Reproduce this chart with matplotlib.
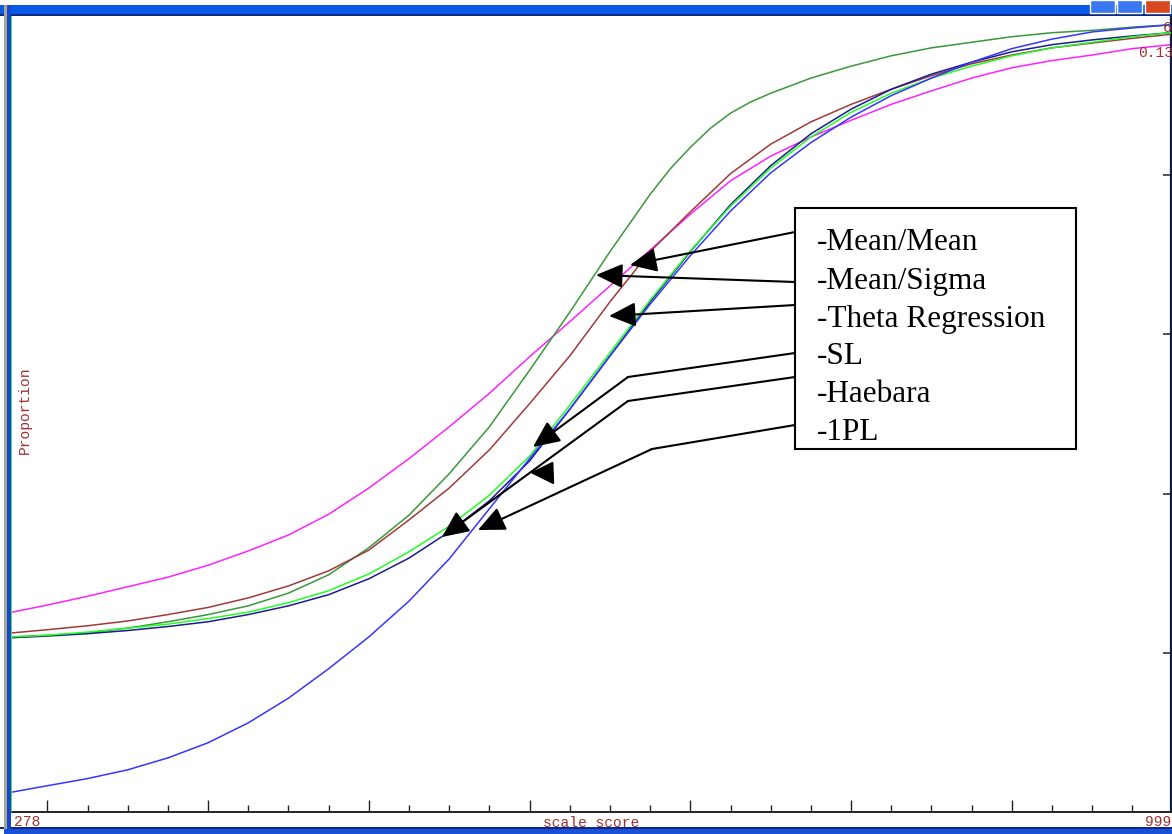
import matplotlib
matplotlib.use("Agg")
import matplotlib.pyplot as plt
from matplotlib.patches import Rectangle, Polygon
from matplotlib.lines import Line2D
from matplotlib.ticker import MultipleLocator

# ---------------- data ----------------
x_min, x_max = 278, 999
x_major_step, x_minor_step = 100, 25
y_ticks = [0.2, 0.4, 0.6, 0.8]

legend_labels = ["-Mean/Mean", "-Mean/Sigma", "-Theta Regression", "-SL", "-Haebara", "-1PL"]

scale_scores = [278, 300, 325, 350, 375, 400, 425, 450, 475, 500, 525, 550, 575, 600, 625,
                650, 675, 700, 725, 750, 775, 800, 825, 850, 875, 900, 925, 950, 975, 999]

mean_mean = [0.251, 0.260, 0.271, 0.283, 0.295, 0.310, 0.328, 0.348, 0.374, 0.407,
             0.444, 0.484, 0.526, 0.572, 0.616, 0.661, 0.706, 0.751, 0.793, 0.824,
             0.848, 0.869, 0.889, 0.906, 0.922, 0.935, 0.944, 0.951, 0.959, 0.964]

mean_sigma_x = [278, 300, 325, 350, 375, 400, 425, 450, 475, 500, 525, 550, 575, 600, 625,
                650, 675, 687.5, 700, 712.5, 725, 737.5, 750, 775, 800, 825, 850, 875, 900,
                925, 950, 975, 999]
mean_sigma = [0.220, 0.222, 0.225, 0.231, 0.239, 0.248, 0.259, 0.275, 0.298, 0.332,
              0.373, 0.425, 0.484, 0.555, 0.628, 0.704, 0.776, 0.808, 0.835, 0.859,
              0.878, 0.892, 0.903, 0.922, 0.937, 0.950, 0.960, 0.967, 0.974, 0.979,
              0.982, 0.986, 0.989]

theta_regression = [0.225, 0.229, 0.234, 0.240, 0.248, 0.257, 0.269, 0.284, 0.303, 0.329,
                    0.367, 0.407, 0.455, 0.513, 0.573, 0.641, 0.704, 0.754, 0.802, 0.839,
                    0.867, 0.889, 0.908, 0.925, 0.940, 0.951, 0.960, 0.966, 0.972, 0.977]

sl = [0.220, 0.222, 0.226, 0.231, 0.236, 0.243, 0.251, 0.263, 0.278, 0.299,
      0.327, 0.359, 0.398, 0.447, 0.511, 0.577, 0.643, 0.705, 0.761, 0.809,
      0.848, 0.879, 0.903, 0.922, 0.937, 0.950, 0.960, 0.967, 0.974, 0.979]

haebara = [0.219, 0.221, 0.224, 0.228, 0.233, 0.239, 0.248, 0.259, 0.273, 0.293,
           0.319, 0.352, 0.391, 0.441, 0.506, 0.573, 0.641, 0.704, 0.763, 0.812,
           0.852, 0.883, 0.908, 0.927, 0.942, 0.955, 0.964, 0.970, 0.975, 0.979]

one_pl = [0.025, 0.033, 0.042, 0.053, 0.068, 0.087, 0.112, 0.143, 0.180, 0.220,
          0.265, 0.318, 0.381, 0.444, 0.506, 0.573, 0.638, 0.699, 0.755, 0.803,
          0.841, 0.873, 0.900, 0.922, 0.942, 0.959, 0.971, 0.980, 0.985, 0.989]

# ---------------- figure ----------------
W, H = 1172, 834
fig = plt.figure(figsize=(W / 100, H / 100), dpi=100)
fig.patch.set_facecolor("white")


def fx(px):
    return px / W


def fy(py):
    return 1 - py / H


def rect(px, py, w, h, color, z=10, **kw):
    fig.add_artist(Rectangle((fx(px), fy(py + h)), w / W, h / H, transform=fig.transFigure,
                             facecolor=color, edgecolor=kw.pop("ec", "none"), zorder=z, **kw))


ax = fig.add_axes([fx(12), fy(812), fx(1171) - fx(12), fy(16) - fy(812)])
ax.set_xlim(x_min, x_max)
ax.set_ylim(0, 1)
ax.set_facecolor("white")

series = [
    (scale_scores, mean_mean, "#ff22ff", 2),
    (mean_sigma_x, mean_sigma, "#3a983a", 3),
    (scale_scores, theta_regression, "#a03a3a", 3),
    (scale_scores, haebara, "#1c1c90", 4),
    (scale_scores, sl, "#22ff22", 5),
    (scale_scores, one_pl, "#3535ff", 6),
]
for xs, ps, c, z in series:
    ax.plot(xs, ps, color=c, lw=1.1, zorder=z, solid_joinstyle="round")

for s in ["top", "left"]:
    ax.spines[s].set_visible(False)
ax.spines["bottom"].set_color("#222222")
ax.spines["bottom"].set_linewidth(1.4)
ax.spines["right"].set_color("#0c1a44")
ax.spines["right"].set_linewidth(1.6)

ax.xaxis.set_major_locator(MultipleLocator(x_major_step))
ax.xaxis.set_minor_locator(MultipleLocator(x_minor_step))
ax.tick_params(axis="x", which="major", direction="in", length=9, width=1.0, color="#222222",
               labelbottom=False, top=False)
ax.tick_params(axis="x", which="minor", direction="in", length=5, width=1.0, color="#222222",
               top=False)
ax.set_yticks(y_ticks)
ax.yaxis.tick_right()
ax.tick_params(axis="y", which="major", direction="in", length=5.5, width=1.3, color="#444444",
               labelright=False, left=False)

lab_color = "#a03030"
mono = "Liberation Mono"
fig.text(fx(14), fy(822), str(x_min), family=mono, size=10.5, color=lab_color, ha="left", va="center")
fig.text(fx(1171), fy(822), str(x_max), family=mono, size=10.5, color=lab_color, ha="right", va="center")
fig.text(fx(591), fy(823), "scale score", family=mono, size=10.5, color=lab_color, ha="center",
         va="center", zorder=20)
fig.text(fx(25), fy(410), "Proportion", family=mono, size=10.5, color=lab_color, rotation=90,
         ha="center", va="center")
fig.text(fx(1163), fy(28), "6", family=mono, size=10.5, color=lab_color, ha="left", va="center")
fig.text(fx(1138), fy(53), "0.13", family=mono, size=10.5, color=lab_color, ha="left", va="center")

# ---------------- window chrome ----------------
rect(0, 5, W, 10, "#0a5ae6")
rect(0, 14, W, 2, "#0b2a86")
rect(3.5, 5, 3, H, "#a8a690")
rect(6.5, 5, 4.5, H, "#1246d6")
rect(11, 16, 1.2, 812 - 16, "#44ee44")
rect(3.5, 829, W, 6, "#1a4fd8")
rect(0, 827, W, 2, "#0b2a86", z=9)
for bx, col in [(1090, "#3a78f2"), (1117, "#3a78f2"), (1145, "#d8471e")]:
    rect(bx, 0, 25, 13, col, z=11, ec="white", lw=1.0)

# ---------------- legend box with arrows ----------------
fig.add_artist(Rectangle((fx(795), fy(449)), 281 / W, 241 / H, transform=fig.transFigure,
                         facecolor="white", edgecolor="black", lw=1.5, zorder=15))
for i, lab in enumerate(legend_labels):
    fig.text(fx(817), fy(243 + 38.0 * i), lab, family="Liberation Serif", size=22.5,
             color="black", ha="left", va="center", zorder=16)


def sp(px, py):
    return (px, H - py)


def arrow(start, tip):
    ax.annotate("", xy=sp(*tip), xytext=sp(*start), xycoords="figure pixels",
                textcoords="figure pixels", annotation_clip=False, zorder=14,
                arrowprops=dict(arrowstyle="-|>,head_length=0.55,head_width=0.25",
                                mutation_scale=30, color="black", lw=1.5,
                                shrinkA=0, shrinkB=0))


def seg(a, b):
    fig.add_artist(Line2D([fx(a[0]), fx(b[0])], [fy(a[1]), fy(b[1])], transform=fig.transFigure,
                          color="black", lw=1.5, zorder=14))


arrow((795, 232), (630, 265))
arrow((795, 282), (596, 275))
arrow((795, 305), (609, 316))
seg((795, 353), (628, 377))
arrow((628, 377), (533, 447))
seg((795, 377), (628, 401))
arrow((628, 401), (442, 537))
seg((795, 425), (652, 449))
arrow((652, 449), (478, 530))
fig.add_artist(Polygon([(fx(531.7), fy(472.7)), (fx(552.7), fy(462.5)), (fx(553.5), fy(483.5))],
                       closed=True, transform=fig.transFigure, facecolor="black",
                       edgecolor="black", zorder=14))

fig.savefig("out.png", dpi=100)
